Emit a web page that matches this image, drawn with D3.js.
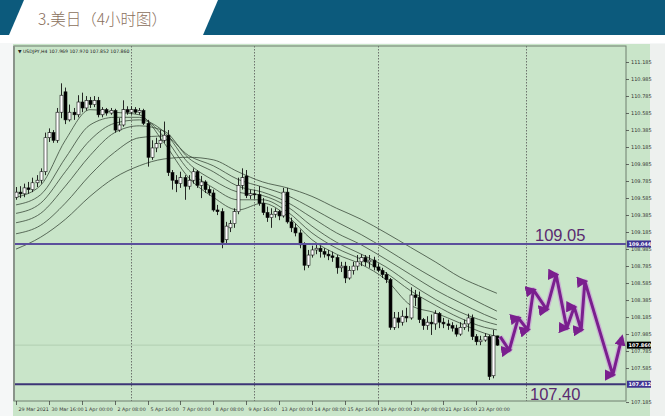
<!DOCTYPE html>
<html><head><meta charset="utf-8">
<script src="https://cdn.jsdelivr.net/npm/d3@7"></script>
<style>html,body{margin:0;padding:0;background:#fff;overflow:hidden}svg{display:block}</style>
</head><body>
<svg id="c" width="665" height="416"></svg>
<script>
// ---------------- DATA ----------------
const titleText = "3.美日（4小时图）";
const infoText = "▼ USDJPY,H4  107.969 107.970 107.852 107.860";

// H4 bars: index 0 = 29 Mar 2021 08:00 ... index 117 = 23 Apr 2021 20:00
const open = [109.60,109.66,109.64,109.71,109.69,109.77,109.80,109.90,110.30,110.36,
110.27,110.60,110.84,110.51,110.60,110.57,110.72,110.65,110.74,110.69,
110.74,110.57,110.63,110.59,110.62,110.39,110.45,110.63,110.60,110.63,
110.60,110.62,110.47,110.07,110.18,110.23,110.27,110.33,109.89,109.80,
109.76,109.83,109.73,109.80,109.90,109.74,109.78,109.69,109.65,109.45,
109.43,109.10,109.24,109.29,109.43,109.74,109.85,109.62,109.64,109.63,
109.53,109.42,109.36,109.40,109.43,109.38,109.66,109.31,109.24,109.18,
109.04,108.80,108.92,108.98,109.00,108.96,108.93,108.91,108.89,108.77,
108.79,108.65,108.74,108.79,108.84,108.89,108.84,108.86,108.78,108.74,
108.69,108.63,108.07,108.18,108.13,108.20,108.18,108.45,108.42,108.16,
108.09,108.13,108.11,108.23,108.13,108.11,108.09,108.06,107.99,108.07,
108.11,108.18,107.96,107.90,107.92,107.96,107.50,107.969];
const high = [109.72,109.73,109.76,109.78,109.83,109.86,109.94,110.36,110.41,110.39,
110.65,110.94,110.89,110.69,110.65,110.80,110.83,110.79,110.78,110.79,
110.78,110.66,110.65,110.65,110.64,110.53,110.74,110.67,110.67,110.66,
110.65,110.64,110.51,110.27,110.30,110.39,110.49,110.39,109.92,109.86,
109.90,109.86,109.86,109.94,109.92,109.85,109.80,109.73,109.69,109.51,
109.47,109.31,109.33,109.47,109.83,109.94,109.92,109.69,109.69,109.73,
109.59,109.49,109.47,109.47,109.45,109.71,109.71,109.36,109.29,109.22,
109.07,108.98,109.03,109.05,109.03,109.00,108.98,108.96,108.92,108.84,
108.84,108.79,108.84,108.92,108.93,108.92,108.92,108.90,108.82,108.77,
108.72,108.65,108.25,108.25,108.27,108.30,108.54,108.51,108.49,108.18,
108.20,108.22,108.27,108.25,108.18,108.16,108.13,108.10,108.13,108.16,
108.23,108.22,107.99,107.97,108.00,107.98,108.04,107.970];
const low = [109.57,109.59,109.60,109.64,109.66,109.72,109.76,109.86,110.25,110.24,
110.24,110.53,110.46,110.49,110.51,110.54,110.60,110.62,110.65,110.66,
110.54,110.54,110.56,110.57,110.36,110.37,110.43,110.57,110.57,110.58,
110.57,110.45,109.96,110.04,110.13,110.18,110.24,109.85,109.69,109.66,
109.71,109.57,109.69,109.76,109.71,109.59,109.65,109.62,109.43,109.39,
109.00,109.05,109.19,109.24,109.40,109.69,109.59,109.58,109.58,109.50,
109.39,109.31,109.24,109.36,109.33,109.36,109.29,109.19,109.14,109.00,
108.74,108.77,108.89,108.93,108.89,108.89,108.86,108.84,108.70,108.72,
108.59,108.63,108.69,108.74,108.79,108.79,108.77,108.74,108.72,108.65,
108.59,108.04,108.04,108.06,108.09,108.13,108.16,108.32,108.12,108.04,
108.04,107.98,108.04,108.06,108.06,108.04,108.02,107.96,107.97,108.04,
108.02,107.92,107.86,107.86,107.90,107.45,107.47,107.852];
const close = [109.66,109.64,109.71,109.69,109.77,109.80,109.90,110.30,110.36,110.27,
110.60,110.80,110.51,110.60,110.57,110.72,110.65,110.74,110.69,110.74,
110.57,110.63,110.59,110.62,110.39,110.45,110.63,110.60,110.63,110.60,
110.62,110.47,110.07,110.18,110.23,110.27,110.33,109.89,109.80,109.76,
109.83,109.73,109.80,109.90,109.74,109.78,109.69,109.65,109.45,109.43,
109.07,109.26,109.29,109.43,109.74,109.83,109.62,109.64,109.63,109.53,
109.42,109.36,109.40,109.43,109.38,109.66,109.31,109.24,109.18,109.04,
108.80,108.92,108.98,109.00,108.96,108.93,108.91,108.89,108.77,108.79,
108.65,108.74,108.79,108.84,108.89,108.84,108.86,108.78,108.74,108.69,
108.63,108.07,108.18,108.13,108.20,108.18,108.45,108.42,108.16,108.09,
108.13,108.11,108.23,108.13,108.11,108.09,108.06,107.99,108.07,108.11,
108.18,107.96,107.90,107.92,107.96,107.49,107.97,107.860];

// moving-average lines at these bar indices
const maIdx = [0,6,12,18,24,30,36,42,48,54,60,66,72,78,84,90,96,102,108,114,117];
const ma1 = [109.60,109.74,110.27,110.63,110.60,110.57,110.24,109.83,109.60,109.45,109.53,109.38,109.10,108.93,108.81,108.63,108.33,108.24,108.12,108.00,107.96];
const ma2 = [109.51,109.63,110.06,110.45,110.54,110.54,110.31,109.92,109.71,109.57,109.57,109.43,109.18,109.00,108.87,108.71,108.50,108.33,108.18,108.07,108.04];
const ma3 = [109.41,109.53,109.90,110.27,110.47,110.51,110.37,110.00,109.80,109.66,109.62,109.49,109.26,109.07,108.93,108.78,108.58,108.40,108.25,108.14,108.10];
const ma4 = [109.30,109.41,109.73,110.09,110.36,110.44,110.38,110.06,109.90,109.73,109.66,109.54,109.36,109.18,109.04,108.87,108.69,108.51,108.36,108.22,108.16];
const ma5 = [109.17,109.27,109.53,109.86,110.13,110.30,110.32,110.09,109.97,109.81,109.72,109.62,109.47,109.31,109.16,108.99,108.81,108.64,108.48,108.33,108.26];
const ma6 = [108.99,109.13,109.34,109.61,109.83,109.97,110.05,110.07,110.04,109.90,109.78,109.71,109.61,109.47,109.34,109.18,109.01,108.84,108.66,108.53,108.47];

// time axis labels (bar index -> text)
const timeTickIdx = [0,8,16,24,32,40,48,56,64,72,80,88,96,104,112];
const timeTickLabels = ["29 Mar 2021","30 Mar 16:00","1 Apr 00:00","2 Apr 08:00","5 Apr 16:00","7 Apr 00:00","8 Apr 08:00","9 Apr 16:00","13 Apr 00:00","14 Apr 08:00","15 Apr 16:00","19 Apr 00:00","20 Apr 08:00","21 Apr 16:00","23 Apr 00:00"];
// week separators (bar index)
const separatorIdx = [28,58,88,124];
// price axis ticks (107.385 is hidden behind the 107.40 box in the original)
const priceTicks = [107.185,107.585,107.785,107.985,108.185,108.385,108.585,108.785,108.985,109.185,109.385,109.585,109.785,109.985,110.185,110.385,110.585,110.785,110.985,111.185];

// horizontal levels
const levels = [109.05, 107.40];
const levelLabels = ["109.05", "107.40"];
const levelBoxLabels = ["109.044", "107.412"];
const lastPrice = 107.860;

// projected zig-zag path (bar index, price)
const projIdx = [117.8,120,122.2,124.5,125.9,129.1,131.4,134,135.8,137.5,138.4,145.2,147.4];
const projPrice = [107.96,107.80,108.18,108.04,108.51,108.28,108.69,108.06,108.31,108.04,108.61,107.51,107.95];

// ---------------- DRAW ----------------
const svg = d3.select('#c');
const P = {l:14, t:46, r:626, b:401};
const x = d3.scaleLinear().domain([0,117]).range([16, 496.9]);
const y = d3.scaleLinear().domain([107.203, 111.379]).range([P.b, P.t]);

// page background
svg.append('rect').attr('width',665).attr('height',416).attr('fill','#f5f7f7');
// header band
svg.append('rect').attr('x',0).attr('y',0).attr('width',665).attr('height',35).attr('fill','#0c5a7c');
svg.append('polygon').attr('points','24,0 218,0 203,35 9,35').attr('fill','#ffffff');
svg.append('text').attr('x',38).attr('y',24.5)
  .attr('font-family','"Noto Sans CJK SC","Noto Sans",sans-serif')
  .attr('font-size',15.5).attr('font-weight',300).attr('fill','#8a705c').text(titleText);
svg.append('rect').attr('x',0).attr('y',35).attr('width',665).attr('height',8).attr('fill','#ffffff');

// chart background
svg.append('rect').attr('x',13).attr('y',44).attr('width',637).attr('height',372).attr('fill','#c9e5c9');
svg.append('rect').attr('x',650).attr('y',44).attr('width',15).attr('height',372).attr('fill','#eef1ef');

const defs = svg.append('defs');
defs.append('clipPath').attr('id','plotclip').append('rect')
  .attr('x',P.l).attr('y',P.t).attr('width',P.r-P.l).attr('height',P.b-P.t);
const g = svg.append('g').attr('clip-path','url(#plotclip)');

// separators
g.selectAll('line.sep').data(separatorIdx).enter().append('line')
  .attr('x1',d=>Math.round(x(d))+0.5).attr('x2',d=>Math.round(x(d))+0.5)
  .attr('y1',P.t).attr('y2',P.b).attr('stroke','#555').attr('stroke-width',0.8)
  .attr('stroke-dasharray','1.5,1.5');

// last price faint line
g.append('line').attr('x1',P.l).attr('x2',P.r).attr('y1',y(lastPrice)).attr('y2',y(lastPrice))
  .attr('stroke','#a3bfa3').attr('stroke-width',0.6);

// moving averages
const maLine = d3.line().x((d,i)=>x(maIdx[i])).y(d=>y(d)).curve(d3.curveMonotoneX);
[ma1,ma2,ma3,ma4,ma5,ma6].forEach(m=>{
  g.append('path').attr('d',maLine(m)).attr('fill','none').attr('stroke','#3b4a3b').attr('stroke-width',0.8);
});

// candles
const bars = d3.range(open.length);
g.selectAll('line.wick').data(bars).enter().append('line')
  .attr('x1',i=>Math.round(x(i))+0.5).attr('x2',i=>Math.round(x(i))+0.5)
  .attr('y1',i=>y(high[i])).attr('y2',i=>y(low[i]))
  .attr('stroke','#111').attr('stroke-width',0.9);
g.selectAll('rect.body').data(bars).enter().append('rect')
  .attr('x',i=>Math.round(x(i))-1)
  .attr('y',i=>y(Math.max(open[i],close[i])))
  .attr('width',3)
  .attr('height',i=>Math.max(1,Math.abs(y(open[i])-y(close[i]))))
  .attr('fill',i=>close[i]>=open[i]?'#ffffff':'#000000')
  .attr('stroke','#111').attr('stroke-width',0.6);

// horizontal levels
const levelColors = ['#5b4f9c','#3c3576'];
levels.forEach((lv,k)=>{
  g.append('line').attr('x1',P.l).attr('x2',P.r).attr('y1',y(lv)).attr('y2',y(lv))
    .attr('stroke',levelColors[k]).attr('stroke-width',2);
});
svg.append('text').attr('x',535).attr('y',y(levels[0])-3)
  .attr('font-family','"Liberation Sans",Arial,sans-serif').attr('font-size',16.5)
  .attr('fill','#5a2a70').text(levelLabels[0]);
svg.append('text').attr('x',530).attr('y',y(levels[1])+16)
  .attr('font-family','"Liberation Sans",Arial,sans-serif').attr('font-size',16.5)
  .attr('fill','#5a2a70').text(levelLabels[1]);

// projected zig-zag with arrowheads
const mk = defs.append('marker').attr('id','ah').attr('viewBox','0 0 10 10')
  .attr('refX',7).attr('refY',5).attr('markerWidth',3.8).attr('markerHeight',3.8)
  .attr('orient','auto').attr('markerUnits','strokeWidth');
mk.append('path').attr('d','M0,0 L10,5 L0,10 z').attr('fill','#7a1f8e');
const projPts = projIdx.map((d,i)=>[x(d), y(projPrice[i])]);
const pl = d3.line();
svg.append('path').attr('d',pl(projPts)).attr('fill','none').attr('stroke','#c9a3d5')
  .attr('stroke-width',5.5).attr('stroke-linejoin','round').attr('opacity',0.75);
svg.append('path').attr('d',pl(projPts)).attr('fill','none').attr('stroke','#7a1f8e')
  .attr('stroke-width',3).attr('stroke-linejoin','round')
  .attr('marker-mid','url(#ah)').attr('marker-end','url(#ah)');

// frame
svg.append('rect').attr('x',P.l).attr('y',P.t).attr('width',P.r-P.l).attr('height',P.b-P.t)
  .attr('fill','none').attr('stroke','#6f7f6f').attr('stroke-width',1);
svg.append('line').attr('x1',P.l).attr('x2',P.l).attr('y1',P.t).attr('y2',P.b)
  .attr('stroke','#8a948a').attr('stroke-width',2);

// info text
svg.append('text').attr('x',18).attr('y',53).attr('font-family','"DejaVu Sans",sans-serif')
  .attr('font-size',4.6).attr('fill','#222').text(infoText);

// price axis
const ya = svg.append('g');
priceTicks.forEach(p=>{
  const yy = y(p);
  ya.append('line').attr('x1',P.r).attr('x2',P.r+3).attr('y1',yy).attr('y2',yy).attr('stroke','#333').attr('stroke-width',0.7);
  ya.append('text').attr('x',P.r+5).attr('y',yy+1.8).attr('font-family','"DejaVu Sans",sans-serif')
    .attr('font-size',5).attr('fill','#333').text(d3.format('.3f')(p));
});
// value boxes
const boxes = [
  {p:levels[0], t:levelBoxLabels[0], f:'#3f3492'},
  {p:lastPrice, t:d3.format('.3f')(lastPrice), f:'#000000'},
  {p:levels[1], t:levelBoxLabels[1], f:'#3f3492'}
];
boxes.forEach(b=>{
  const yy = y(b.p);
  ya.append('rect').attr('x',P.r+1).attr('y',yy-3.5).attr('width',24).attr('height',7).attr('fill',b.f);
  ya.append('text').attr('x',P.r+2.5).attr('y',yy+1.9).attr('font-family','"DejaVu Sans",sans-serif')
    .attr('font-size',5).attr('font-weight','bold').attr('fill','#fff').text(b.t);
});

// time axis
const xa = svg.append('g');
timeTickIdx.forEach((ix,k)=>{
  const xx = Math.round(x(ix))+0.5;
  xa.append('line').attr('x1',xx).attr('x2',xx).attr('y1',P.b).attr('y2',P.b+4).attr('stroke','#333').attr('stroke-width',0.7);
  xa.append('text').attr('x',xx+2).attr('y',P.b+9.5).attr('font-family','"DejaVu Sans",sans-serif')
    .attr('font-size',4.8).attr('fill','#333').text(timeTickLabels[k]);
});
</script>
</body></html>
